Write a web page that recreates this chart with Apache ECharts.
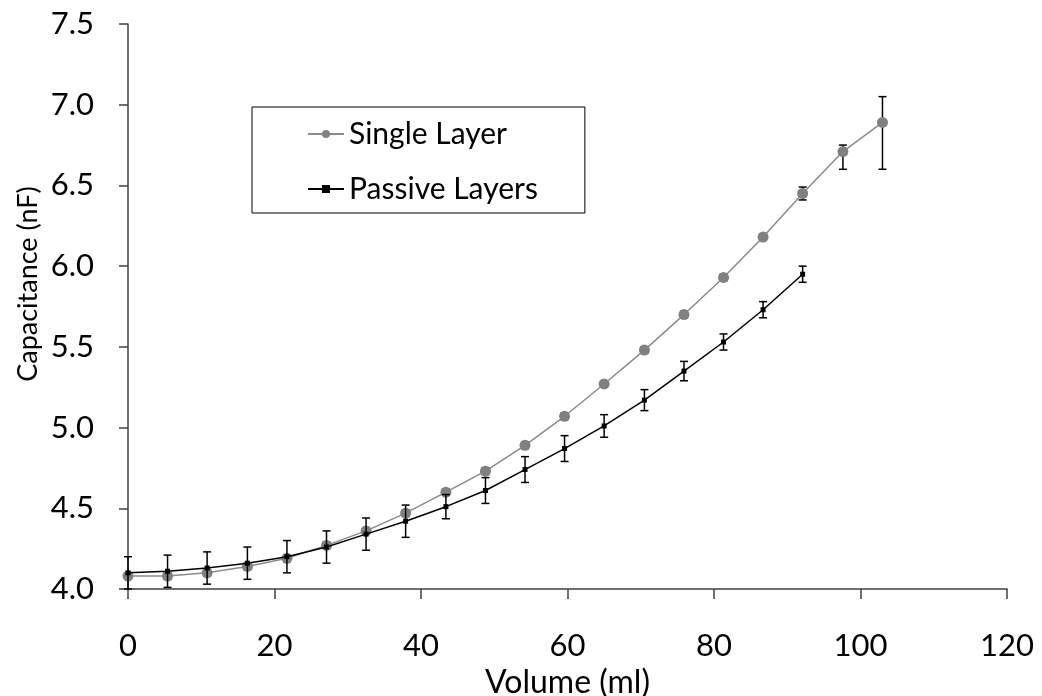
<!DOCTYPE html>
<html>
<head>
<meta charset="utf-8">
<script src="https://cdn.jsdelivr.net/npm/echarts@6/dist/echarts.min.js"></script>
<style>
  html, body { margin: 0; padding: 0; background: #fff; }
  #chart { width: 1042px; height: 696px; }
</style>
</head>
<body>
<div id="chart"></div>
<script>
// Volume (ml) at each measurement step
const volume = [0, 5.4, 10.8, 16.3, 21.7, 27.1, 32.5, 37.9, 43.4, 48.8, 54.2, 59.6, 65.0, 70.5, 75.9, 81.3, 86.7, 92.1, 97.6, 103.0];

// Single layer capacitance (nF) and its error bars (+ / -)
const singleLayer = [4.08, 4.08, 4.10, 4.14, 4.19, 4.27, 4.36, 4.47, 4.60, 4.73, 4.89, 5.07, 5.27, 5.48, 5.70, 5.93, 6.18, 6.45, 6.71, 6.89];
const singlePlus  = [0.02, 0.02, 0.02, 0.02, 0.02, 0.02, 0.02, 0.02, 0.02, 0.02, 0.02, 0.02, 0.02, 0.02, 0.02, 0.02, 0.02, 0.04, 0.04, 0.16];
const singleMinus = [0.02, 0.02, 0.02, 0.02, 0.02, 0.02, 0.02, 0.02, 0.02, 0.02, 0.02, 0.02, 0.02, 0.02, 0.02, 0.02, 0.02, 0.04, 0.11, 0.29];

// Passive layers capacitance (nF) and symmetric error
const passiveLayers = [4.10, 4.11, 4.13, 4.16, 4.20, 4.26, 4.34, 4.42, 4.51, 4.61, 4.74, 4.87, 5.01, 5.17, 5.35, 5.53, 5.73, 5.95];
const passiveErr    = [0.10, 0.10, 0.10, 0.10, 0.10, 0.10, 0.10, 0.10, 0.075, 0.08, 0.08, 0.08, 0.07, 0.065, 0.06, 0.05, 0.05, 0.05];

// Axis ticks
const xTicks = { min: 0, max: 120, step: 20 };
const yTicks = { min: 4.0, max: 7.5, step: 0.5 };

const FONT = 'Lato';

const singlePts = singleLayer.map((v, i) => [volume[i], v]);
const passivePts = passiveLayers.map((v, i) => [volume[i], v]);
const singleBars = singleLayer.map((v, i) => [volume[i], v - singleMinus[i], v + singlePlus[i]]);
const passiveBars = passiveLayers.map((v, i) => [volume[i], v - passiveErr[i], v + passiveErr[i]]);

// Vertical whisker with caps at both ends
function renderErrorBar(params, api) {
  const x = api.value(0);
  const lo = api.coord([x, api.value(1)]);
  const hi = api.coord([x, api.value(2)]);
  const half = 4;
  const style = { stroke: '#000', lineWidth: 1.5 };
  return {
    type: 'group',
    children: [
      { type: 'line', shape: { x1: lo[0], y1: lo[1], x2: hi[0], y2: hi[1] }, style },
      { type: 'line', shape: { x1: hi[0] - half, y1: hi[1], x2: hi[0] + half, y2: hi[1] }, style },
      { type: 'line', shape: { x1: lo[0] - half, y1: lo[1], x2: lo[0] + half, y2: lo[1] }, style }
    ]
  };
}

const chart = echarts.init(document.getElementById('chart'), null, { renderer: 'canvas' });

chart.setOption({
  animation: false,
  backgroundColor: '#ffffff',
  grid: { left: 128, right: 35, top: 24, bottom: 107, containLabel: false, outerBoundsMode: 'none' },
  legend: {
    orient: 'vertical',
    left: 252,
    top: 107,
    padding: [12, 47, 9, 55],
    itemGap: 25,
    itemWidth: 36,
    itemHeight: 10,
    borderColor: '#000',
    borderWidth: 1,
    data: ['Single Layer', 'Passive Layers'],
    textStyle: { fontFamily: FONT, fontSize: 30, color: '#000' }
  },
  graphic: [
    {
      type: 'text',
      x: 28,
      y: 284,
      rotation: Math.PI / 2,
      style: {
        text: 'Capacitance (nF)',
        fontFamily: FONT,
        fontSize: 27,
        fill: '#000',
        align: 'center',
        verticalAlign: 'middle'
      }
    }
  ],
  xAxis: {
    type: 'value',
    min: xTicks.min,
    max: xTicks.max,
    interval: xTicks.step,
    name: 'Volume (ml)',
    nameLocation: 'middle',
    nameGap: 78,
    nameTextStyle: { fontFamily: FONT, fontSize: 32, color: '#000' },
    axisLine: { lineStyle: { color: '#404040', width: 1.5 } },
    axisTick: { show: true, inside: false, length: 10, lineStyle: { color: '#404040', width: 1.5 } },
    axisLabel: { margin: 41, fontFamily: FONT, fontSize: 31, color: '#000' },
    splitLine: { show: false }
  },
  yAxis: {
    type: 'value',
    min: yTicks.min,
    max: yTicks.max,
    interval: yTicks.step,
    axisLine: { show: true, lineStyle: { color: '#404040', width: 1.5 } },
    axisTick: { show: true, inside: false, length: 9, lineStyle: { color: '#404040', width: 1.5 } },
    axisLabel: { margin: 34, fontFamily: FONT, fontSize: 31, color: '#000', formatter: v => v.toFixed(1) },
    splitLine: { show: false }
  },
  series: [
    {
      name: 'single-err',
      type: 'custom',
      renderItem: renderErrorBar,
      data: singleBars,
      encode: { x: 0, y: [1, 2] },
      z: 1,
      silent: true
    },
    {
      name: 'Single Layer',
      type: 'line',
      data: singlePts,
      symbol: 'circle',
      symbolSize: 11,
      showAllSymbol: true,
      itemStyle: { color: '#808080' },
      lineStyle: { color: '#8a8a8a', width: 1.5 },
      z: 2
    },
    {
      name: 'Passive Layers',
      type: 'line',
      data: passivePts,
      symbol: 'rect',
      symbolSize: 5,
      showAllSymbol: true,
      itemStyle: { color: '#000' },
      lineStyle: { color: '#000', width: 1.5 },
      z: 3
    },
    {
      name: 'passive-err',
      type: 'custom',
      renderItem: renderErrorBar,
      data: passiveBars,
      encode: { x: 0, y: [1, 2] },
      z: 4,
      silent: true
    }
  ]
});
</script>
</body>
</html>
